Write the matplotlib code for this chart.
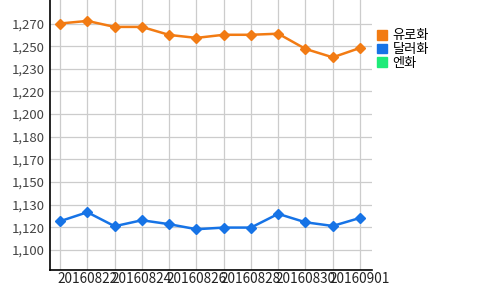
import matplotlib
matplotlib.use("Agg")
import matplotlib.pyplot as plt
from matplotlib.patches import Patch

plt.rcParams['font.family'] = ['Noto Sans CJK KR', 'DejaVu Sans']

dates = ["20160821", "20160822", "20160823", "20160824", "20160825", "20160826",
         "20160827", "20160828", "20160829", "20160830", "20160831", "20160901"]
euro = [1266.7, 1268.6, 1264.2, 1264.2, 1258.3, 1256.1, 1258.4, 1258.4, 1259.2, 1248.0, 1241.8, 1248.7]
dollar = [1121.2, 1127.8, 1117.5, 1121.9, 1119.0, 1115.3, 1116.5, 1116.5, 1126.6, 1120.4, 1117.7, 1123.6]
series_names = ["유로화", "달러화", "엔화"]
series_colors = ["#F27B13", "#1673E6", "#1EEB78"]
yticks = [1100 + 50 / 3 * k for k in range(11)]

fig = plt.figure(figsize=(5, 2.9), dpi=100)
ax = fig.add_axes([0.10, 0.07, 0.644, 0.93])

x = list(range(len(dates)))
ax.plot(x, euro, color=series_colors[0], lw=1.8, marker='D', ms=5.5, zorder=3)
ax.plot(x, dollar, color=series_colors[1], lw=1.8, marker='D', ms=5.5, zorder=3)

ax.set_xlim(-0.37, 11.44)
ax.set_ylim(1085.5, 1284)
ax.set_yticks(yticks)
ax.set_yticklabels([f"{round(v / 10) * 10:,.0f}" for v in yticks], color="#444444", fontsize=9.5)
ax.set_xticks(x)
ax.set_xticklabels([d if i % 2 == 1 else "" for i, d in enumerate(dates)], color="#222222", fontsize=9.8)
ax.tick_params(length=0, pad=2)
ax.tick_params(axis='y', pad=4)
ax.grid(True, color="#cccccc", lw=0.9)
ax.set_axisbelow(True)
for s in ["top", "right"]:
    ax.spines[s].set_visible(False)
for s in ["left", "bottom"]:
    ax.spines[s].set_color("black")
    ax.spines[s].set_linewidth(1.2)

handles = [Patch(color=c, label=n) for n, c in zip(series_names, series_colors)]
fig.legend(handles=handles, loc="upper left", bbox_to_anchor=(0.731, 0.94), frameon=False,
           fontsize=9.5, handlelength=0.75, handleheight=0.75, handletextpad=0.4, labelspacing=0.05)

fig.savefig("out.png", dpi=100)
